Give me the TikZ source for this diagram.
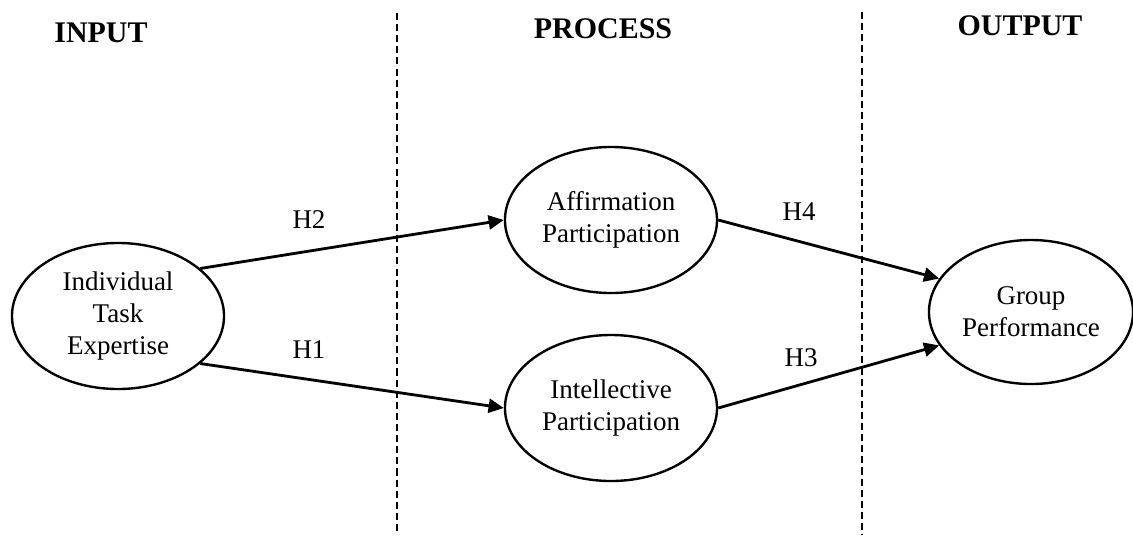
\documentclass[tikz,border=0pt]{standalone}
\usepackage{fontspec}
\setmainfont{Liberation Serif}
\usetikzlibrary{arrows.meta,shapes.geometric}

\begin{document}
\begin{tikzpicture}[
    x=0.025cm, y=-0.025cm,
    font=\fontsize{19.2}{22.8}\selectfont,
    stage/.style={ellipse, draw=black, line width=1.7pt, align=center,
        inner sep=0pt, minimum width=5.3cm, minimum height=3.65cm},
    heading/.style={font=\fontsize{21.3}{24}\selectfont\bfseries, anchor=base},
    hyp/.style={inner sep=1pt},
    divider/.style={draw=black, line width=1.9pt, dash pattern=on 5pt off 2.9pt},
    link/.style={-{Triangle[length=3.8mm, width=3.5mm]}, draw=black, line width=2pt}
]

\useasboundingbox (0,0) rectangle (1133,535);

% Stage dividers.
\coordinate (divA top) at (397,13);
\coordinate (divA bot) at (397,535);
\coordinate (divB top) at (862,12);
\coordinate (divB bot) at (862,535);
\draw[divider] (divA top) -- (divA bot);
\draw[divider] (divB top) -- (divB bot);

% Column headings.
\node[heading] (hInput) at (101,42) {INPUT};
\node[heading] (hProcess) at (603,38) {PROCESS};
\node[heading] (hOutput) at (1020,35) {OUTPUT};

% Constructs.
\node[stage] (expertise) at (118,316) {Individual\\Task\\Expertise};
\node[stage] (affirm) at (611,220) {Affirmation\\Participation};
\node[stage] (intel) at (611,408) {Intellective\\Participation};
\node[stage, minimum width=5.1cm, minimum height=3.6cm] (perf) at (1031,312)
    {Group\\Performance};

% Hypothesised paths.
\draw[link] (expertise.30) -- (affirm.west);
\draw[link] (expertise.-30) -- (intel.west);
\draw[link] (affirm.east) -- (perf.160);
\draw[link] (intel.east) -- (perf.200);

% Path labels.
\node[hyp] (lH2) at (309,220) {H2};
\node[hyp] (lH1) at (309,350) {H1};
\node[hyp] (lH4) at (799,212) {H4};
\node[hyp] (lH3) at (801,358) {H3};

\end{tikzpicture}
\end{document}
